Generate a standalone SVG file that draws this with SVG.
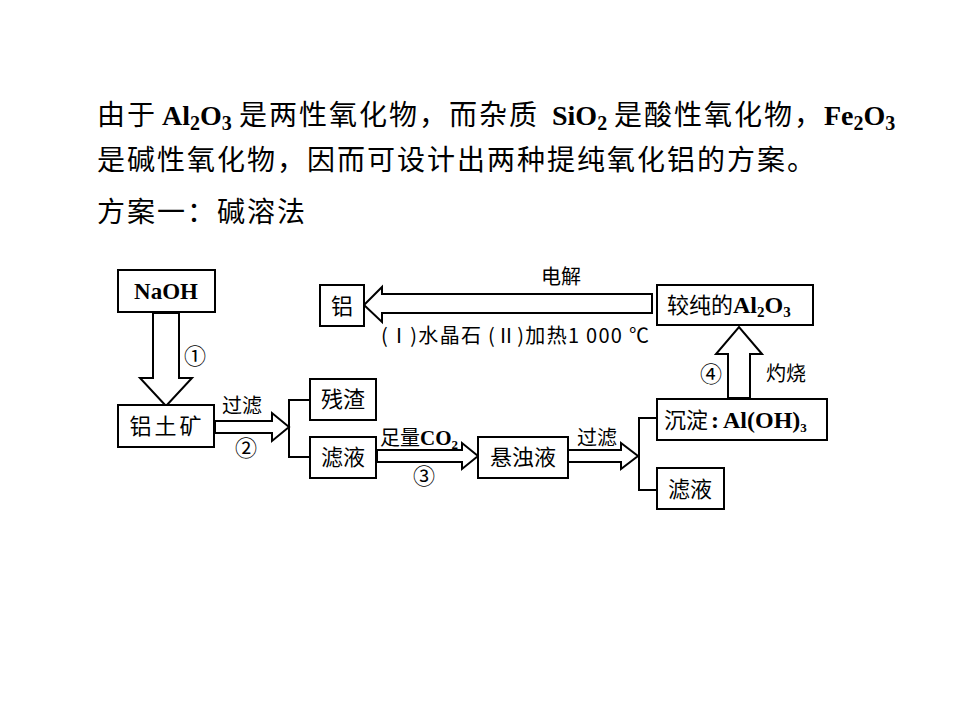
<svg xmlns="http://www.w3.org/2000/svg" width="960" height="720" viewBox="0 0 960 720">
<style>
.cn{font-family:"Noto Sans CJK SC","Liberation Serif",sans-serif;fill:#000}
.big{font-size:28px;letter-spacing:2px}
.lat{font-family:"Liberation Serif","Noto Sans CJK SC",serif;font-weight:bold;fill:#000}
.lbl{font-size:22px}
.sm{font-size:20px}
.num{font-size:22px}
.box{fill:#fff;stroke:#000;stroke-width:2}
.arr{fill:#fff;stroke:#000;stroke-width:2;stroke-linejoin:miter}
.ln{fill:none;stroke:#000;stroke-width:2}
</style>
<rect width="960" height="720" fill="#fff"/>
<g id="intro">
<text class="cn big" y="125"><tspan x="97">由于</tspan></text>
<text class="lat" y="125" x="162" font-size="28">Al<tspan font-size="20" dy="5">2</tspan><tspan dy="-5">O</tspan><tspan font-size="20" dy="5">3</tspan></text>
<text class="cn big" y="125" x="239">是两性氧化物，而杂质</text>
<text class="lat" y="125" x="552" font-size="28">SiO<tspan font-size="20" dy="5">2</tspan></text>
<text class="cn big" y="125" x="614">是酸性氧化物，</text>
<text class="lat" y="125" x="824" font-size="28">Fe<tspan font-size="20" dy="5">2</tspan><tspan dy="-5">O</tspan><tspan font-size="20" dy="5">3</tspan></text>
<text class="cn big" y="170" x="97">是碱性氧化物，因而可设计出两种提纯氧化铝的方案。</text>
<text class="cn big" y="222" x="97">方案一：碱溶法</text>
</g>
<g id="connectors">
<polygon class="arr" points="153,313 179,313 179,378 192,378 166,406 140,378 153,378"/>
<polygon class="arr" points="215,421 272,421 272,413 289,427 272,441 272,433 215,433"/>
<polyline class="ln" points="310,400 289,400 289,457 310,457"/>
<polygon class="arr" points="377,450 462,450 462,443 478,456 462,469 462,462 377,462"/>
<polygon class="arr" points="567,450 621,450 621,443 638,456 621,469 621,462 567,462"/>
<polyline class="ln" points="657,418 639,418 639,490 657,490"/>
<polygon class="arr" points="728,398 728,354 716,354 739,327 762,354 750,354 750,398"/>
<polygon class="arr" points="652,294 382,294 382,287 364,305 382,322 382,313 652,313"/>
</g>
<g id="n-naoh"><rect class="box" x="118" y="270" width="97" height="42"/><text class="lat" x="166" y="299" font-size="23" text-anchor="middle">NaOH</text></g>
<g id="n-ore"><rect class="box" x="118" y="405" width="96" height="42"/><text class="cn lbl" x="167" y="434" text-anchor="middle" letter-spacing="3">铝土矿</text></g>
<g id="n-residue"><rect class="box" x="310" y="379" width="66" height="41"/><text class="cn lbl" x="343" y="407" text-anchor="middle">残渣</text></g>
<g id="n-filtrate1"><rect class="box" x="310" y="437" width="66" height="41"/><text class="cn lbl" x="343" y="465" text-anchor="middle">滤液</text></g>
<g id="n-suspension"><rect class="box" x="478" y="437" width="90" height="41"/><text class="cn lbl" x="523" y="465" text-anchor="middle">悬浊液</text></g>
<g id="n-precipitate"><rect class="box" x="657" y="399" width="170" height="41"/><text y="428"><tspan class="cn lbl" x="664">沉淀</tspan><tspan class="lat" font-size="24" x="711">:</tspan><tspan class="lat" font-size="24" x="723">Al(OH)</tspan><tspan class="lat" font-size="13" dy="4">3</tspan></text></g>
<g id="n-filtrate2"><rect class="box" x="657" y="468" width="67" height="41"/><text class="cn lbl" x="690" y="497" text-anchor="middle">滤液</text></g>
<g id="n-alumina"><rect class="box" x="657" y="285" width="156" height="40"/><text y="313"><tspan class="cn lbl" x="667">较纯的</tspan><tspan class="lat" font-size="24">Al</tspan><tspan class="lat" font-size="15" dy="4">2</tspan><tspan class="lat" font-size="24" dy="-4">O</tspan><tspan class="lat" font-size="15" dy="4">3</tspan></text></g>
<g id="n-al"><rect class="box" x="320" y="285" width="44" height="41"/><text class="cn lbl" x="342" y="314" text-anchor="middle">铝</text></g>
<g id="labels">
<text class="cn num" x="195" y="364" text-anchor="middle">①</text>
<text class="cn sm" x="242" y="413" text-anchor="middle">过滤</text>
<text class="cn num" x="246" y="456" text-anchor="middle">②</text>
<text y="445"><tspan class="cn sm" x="380">足量</tspan><tspan class="lat" font-size="21">CO</tspan><tspan class="lat" font-size="13" dy="4">2</tspan></text>
<text class="cn num" x="424" y="484" text-anchor="middle">③</text>
<text class="cn sm" x="597" y="445" text-anchor="middle">过滤</text>
<text class="cn num" x="711" y="382" text-anchor="middle">④</text>
<text class="cn sm" x="766" y="381">灼烧</text>
<text class="cn sm" x="561" y="284" text-anchor="middle">电解</text>
<text class="cn sm" x="381" y="343" textLength="268" lengthAdjust="spacing">(Ⅰ)水晶石 (Ⅱ)加热1 000 ℃</text>
</g>
</svg>
